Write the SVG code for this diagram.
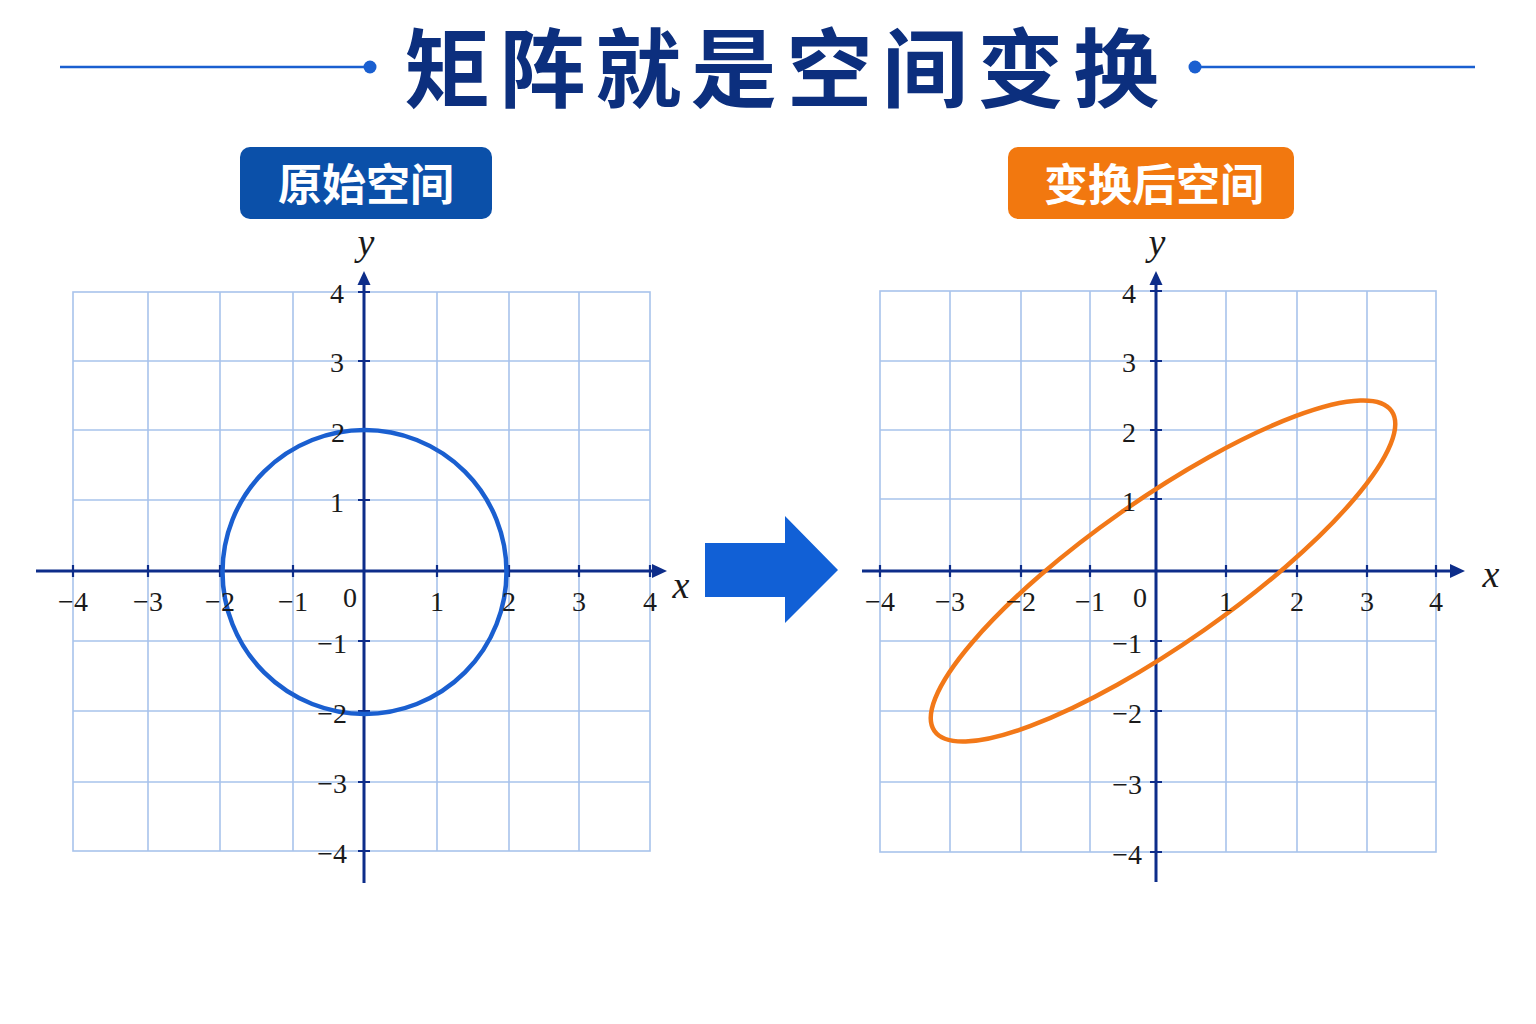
<svg xmlns="http://www.w3.org/2000/svg" width="1536" height="1024" viewBox="0 0 1536 1024">
<style>
.title{font-family:"Noto Sans CJK SC","Noto Sans CJK JP",sans-serif;font-weight:700;font-size:86px;fill:#0c2f7e;letter-spacing:9.6px}
.tag{font-family:"Noto Sans CJK SC","Noto Sans CJK JP",sans-serif;font-weight:700;font-size:44px;fill:#ffffff;text-anchor:middle}
.grid{fill:none;stroke:#a8c3ec;stroke-width:1.6}
.axis{stroke:#0d2d8a;stroke-width:3;fill:none}
.tick{stroke:#0d2d8a;stroke-width:2.2}
.ah{fill:#0d2d8a}
.num{font-family:"Liberation Serif","Times New Roman",serif;font-size:28px;fill:#1a1a1a}
.nx{text-anchor:middle}
.ny{text-anchor:end}
.lbl{font-family:"Liberation Serif","Times New Roman",serif;font-style:italic;font-size:38px;fill:#1a1a1a;text-anchor:middle}
.deco{stroke:#1a5fd0;stroke-width:2.5}
</style>

<rect x="0" y="0" width="1536" height="1024" fill="#ffffff"/>

<g id="title">
<line class="deco" x1="60" y1="67" x2="370" y2="67"/>
<circle cx="370" cy="67" r="6.5" fill="#1a5fd0"/>
<line class="deco" x1="1195" y1="67" x2="1475" y2="67"/>
<circle cx="1195" cy="67" r="6.5" fill="#1a5fd0"/>
<text class="title" x="404" y="101">矩阵就是空间变换</text>
</g>

<g id="tag-original">
<rect x="240" y="147" width="252" height="72" rx="10" fill="#0b50a9"/>
<text class="tag" x="366" y="201">原始空间</text>
</g>

<g id="tag-transformed">
<rect x="1008" y="147" width="286" height="72" rx="10" fill="#f2780f"/>
<text class="tag" x="1154" y="201">变换后空间</text>
</g>

<g id="plot-original">
<rect class="grid" x="73" y="292" width="577" height="559"/>
<path class="grid" d="M148 292V851M220 292V851M293 292V851M437 292V851M509 292V851M579 292V851M73 361H650M73 430H650M73 500H650M73 571H650M73 641H650M73 711H650M73 782H650"/>
<line class="axis" x1="36" y1="571" x2="655" y2="571"/>
<line class="axis" x1="364" y1="282" x2="364" y2="883"/>
<polygon class="ah" points="667,571 652,564 652,578"/>
<polygon class="ah" points="364,271 357.5,285 370.5,285"/>
<path class="tick" d="M73 565V577M148 565V577M220 565V577M293 565V577M437 565V577M509 565V577M579 565V577M650 565V577M358 292H370M358 361H370M358 430H370M358 500H370M358 641H370M358 711H370M358 782H370M358 851H370"/>
<circle cx="364.5" cy="572" r="142" fill="none" stroke="#1a5fd0" stroke-width="4.5"/>
<g class="num nx">
<text x="73" y="611">−4</text><text x="148" y="611">−3</text><text x="220" y="611">−2</text><text x="293" y="611">−1</text>
<text x="437" y="611">1</text><text x="509" y="611">2</text><text x="579" y="611">3</text><text x="650" y="611">4</text>
<text x="350" y="607">0</text>
</g>
<g class="num ny">
<text x="344" y="303">4</text><text x="344" y="372">3</text><text x="345" y="442">2</text><text x="344" y="512">1</text>
<text x="347" y="653">−1</text><text x="347" y="723">−2</text><text x="347" y="793">−3</text><text x="347" y="863">−4</text>
</g>
<text class="lbl" x="366" y="255">y</text>
<text class="lbl" x="681" y="598">x</text>
</g>

<g id="plot-transformed">
<rect class="grid" x="880" y="291" width="556" height="561"/>
<path class="grid" d="M950 291V852M1021 291V852M1090 291V852M1226 291V852M1297 291V852M1367 291V852M880 361H1436M880 430H1436M880 499H1436M880 571H1436M880 641H1436M880 711H1436M880 782H1436"/>
<line class="axis" x1="862" y1="571" x2="1453" y2="571"/>
<line class="axis" x1="1156" y1="282" x2="1156" y2="882"/>
<polygon class="ah" points="1465,571 1450,564 1450,578"/>
<polygon class="ah" points="1156,271 1149.5,285 1162.5,285"/>
<path class="tick" d="M880 565V577M950 565V577M1021 565V577M1090 565V577M1226 565V577M1297 565V577M1367 565V577M1436 565V577M1150 291H1162M1150 361H1162M1150 430H1162M1150 499H1162M1150 641H1162M1150 711H1162M1150 782H1162M1150 852H1162"/>
<ellipse cx="1163" cy="571" rx="279" ry="72" transform="rotate(-35 1163 571)" fill="none" stroke="#f27818" stroke-width="4.5"/>
<g class="num nx">
<text x="880" y="611">−4</text><text x="950" y="611">−3</text><text x="1021" y="611">−2</text><text x="1090" y="611">−1</text>
<text x="1226" y="611">1</text><text x="1297" y="611">2</text><text x="1367" y="611">3</text><text x="1436" y="611">4</text>
<text x="1140" y="607">0</text>
</g>
<g class="num ny">
<text x="1136" y="303">4</text><text x="1136" y="372">3</text><text x="1136" y="442">2</text><text x="1136" y="511">1</text>
<text x="1142" y="653">−1</text><text x="1142" y="723">−2</text><text x="1142" y="794">−3</text><text x="1142" y="864">−4</text>
</g>
<text class="lbl" x="1157" y="255">y</text>
<text class="lbl" x="1491" y="587">x</text>
</g>

<g id="connectors">
<polygon points="705,543 785,543 785,516 838,570 785,623 785,597 705,597" fill="#1160d6"/>
</g>
</svg>
